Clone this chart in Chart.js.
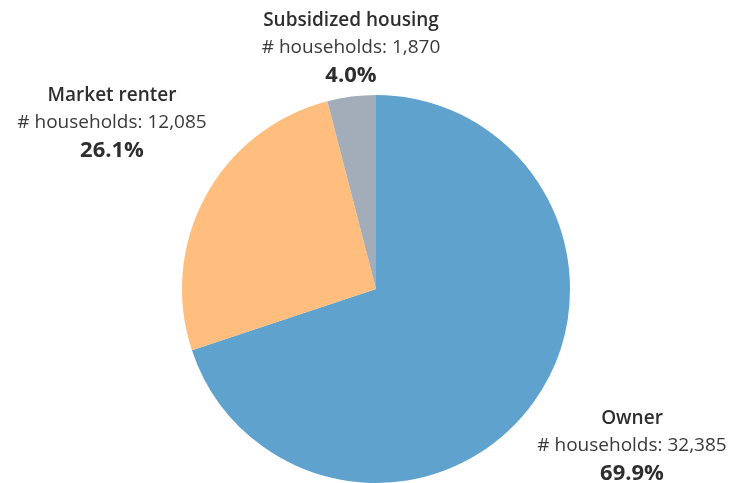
<!DOCTYPE html>
<html>
<head>
<meta charset="utf-8">
<script src="https://cdn.jsdelivr.net/npm/chart.js@4"></script>
<style>
  html, body { margin: 0; padding: 0; background: #fff; }
  #wrap { width: 746px; height: 483px; position: relative; }
</style>
</head>
<body>
<div id="wrap"><canvas id="pie"></canvas></div>
<script>
// Household tenure split
const categories = ["Owner", "Market renter", "Subsidized housing"];
const households = [32385, 12085, 1870];
const sliceColors = ["#5fa2ce", "#ffbe7d", "#a3acb9"];

// label anchors (centre x, top line baseline y) per slice
const labelAnchors = [[632, 424], [112, 101], [351, 26]];

const FONT = "'Open Sans', sans-serif";
const total = households.reduce((a, b) => a + b, 0);

const sliceLabels = {
  id: "sliceLabels",
  afterDraw(chart){
    const ctx = chart.ctx;
    ctx.save();
    ctx.textAlign = "center";
    ctx.textBaseline = "alphabetic";
    categories.forEach((name, i) => {
      const [x, y] = labelAnchors[i];
      const pct = (households[i] / total * 100).toFixed(1) + "%";
      ctx.fillStyle = "#2e2e2e";
      ctx.font = `600 19px ${FONT}`;
      ctx.fillText(name, x, y);
      ctx.fillStyle = "#3a3a3a";
      ctx.font = `400 19px ${FONT}`;
      ctx.fillText("# households: " + households[i].toLocaleString("en-US"), x, y + 27);
      ctx.fillStyle = "#2e2e2e";
      ctx.font = `700 22px ${FONT}`;
      ctx.fillText(pct, x, y + 56);
    });
    ctx.restore();
  }
};

new Chart(document.getElementById("pie"), {
  type: "pie",
  data: {
    labels: categories,
    datasets: [{
      data: households,
      backgroundColor: sliceColors,
      borderWidth: 0
    }]
  },
  options: {
    responsive: true,
    maintainAspectRatio: false,
    animation: false,
    layout: { padding: { left: 6, right: 0, top: 95, bottom: 0 } },
    plugins: { legend: { display: false }, tooltip: { enabled: false } }
  },
  plugins: [sliceLabels]
});
</script>
</body>
</html>
